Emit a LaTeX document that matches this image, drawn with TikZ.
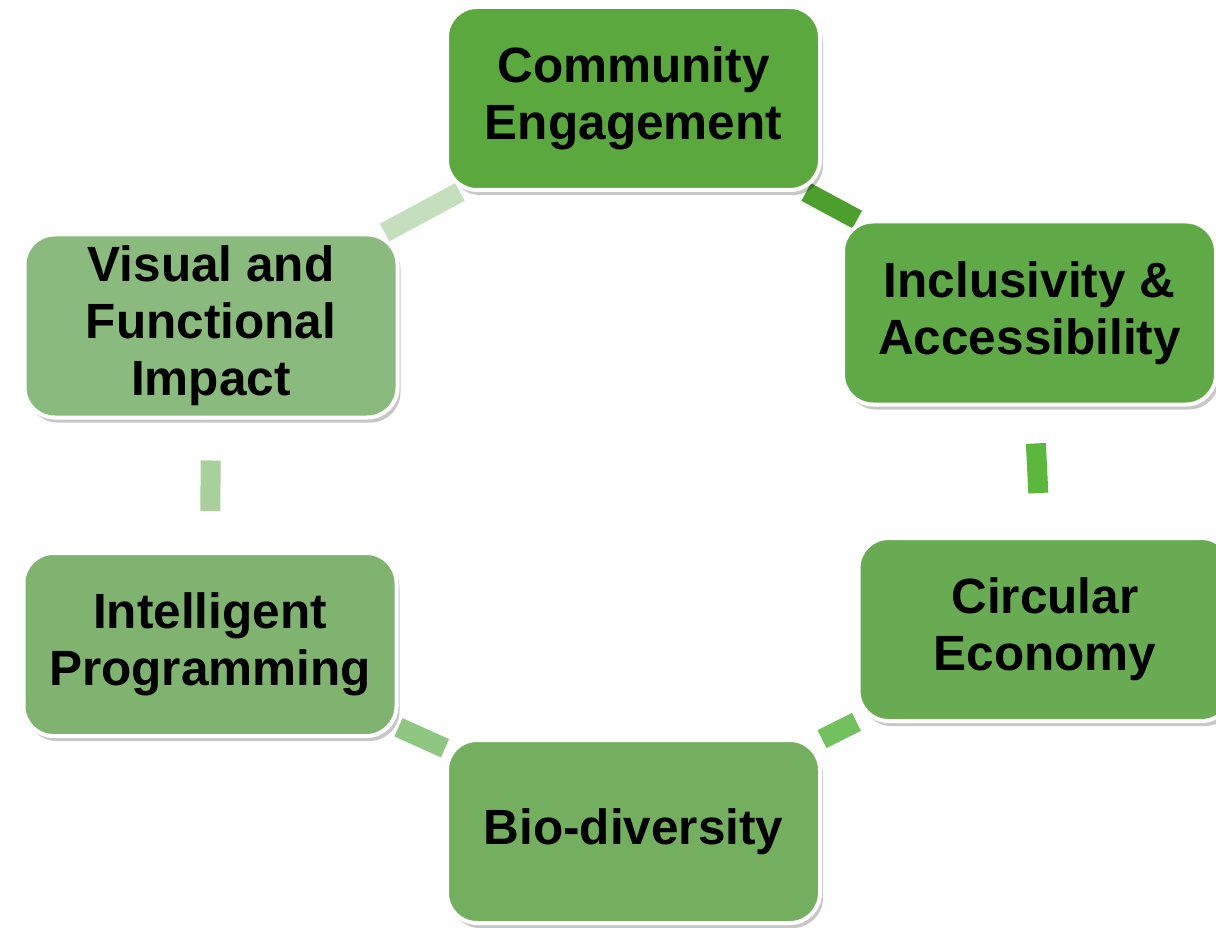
\documentclass[tikz,border=0pt]{standalone}
\usepackage{fontspec}
\setmainfont{Liberation Sans}
\usetikzlibrary{shadows,backgrounds}
\definecolor{fCE}{HTML}{5AA83E}
\definecolor{fIA}{HTML}{60A947}
\definecolor{fCI}{HTML}{68AB52}
\definecolor{fBI}{HTML}{74AF60}
\definecolor{fIP}{HTML}{80B370}
\definecolor{fVF}{HTML}{8BBA7E}
\definecolor{kA}{HTML}{4C9E2D}
\definecolor{kB}{HTML}{5BB83C}
\definecolor{kC}{HTML}{72C05E}
\definecolor{kD}{HTML}{8FC681}
\definecolor{kE}{HTML}{A9D09C}
\definecolor{kF}{HTML}{C5DEBD}
\tikzset{
  box/.style={rectangle, rounded corners=30pt, minimum width=373pt, minimum height=183pt,
    draw=white, line width=4pt, align=center, text=black,
    font=\fontsize{49.5}{57}\selectfont\bfseries,
    drop shadow={shadow xshift=3pt, shadow yshift=-5pt, fill=black, opacity=0.22}},
  conn/.style={line width=20pt}
}
\begin{document}
\begin{tikzpicture}[x=1pt,y=-1pt]
\useasboundingbox (0,0) rectangle (1216,928);
\node[box, fill=fCE] (ce) at (633.5,98.5) {Community\\Engagement};
\node[box, fill=fIA] (ia) at (1029.5,313) {Inclusivity \&\\Accessibility};
\node[box, fill=fCI] (ci) at (1045,629.5) {Circular\\Economy};
\node[box, fill=fBI] (bi) at (633.5,831.5) {Bio-diversity};
\node[box, fill=fIP] (ip) at (210,644.5) {Intelligent\\Programming};
\node[box, fill=fVF] (vf) at (211,326) {Visual and\\Functional\\Impact};
\begin{scope}[on background layer]
\fill[white] (0,0) rectangle (1216,928);
\draw[conn, kA] (ce) -- (ia);
\draw[conn, kB, shorten <=37pt, shorten >=43pt] (ia) -- (ci);
\draw[conn, kC] (ci) -- (bi);
\draw[conn, kD] (bi) -- (ip);
\draw[conn, kE, shorten <=40pt, shorten >=41pt] (ip) -- (vf);
\draw[conn, kF] (vf) -- (ce);
\end{scope}
\end{tikzpicture}
\end{document}
